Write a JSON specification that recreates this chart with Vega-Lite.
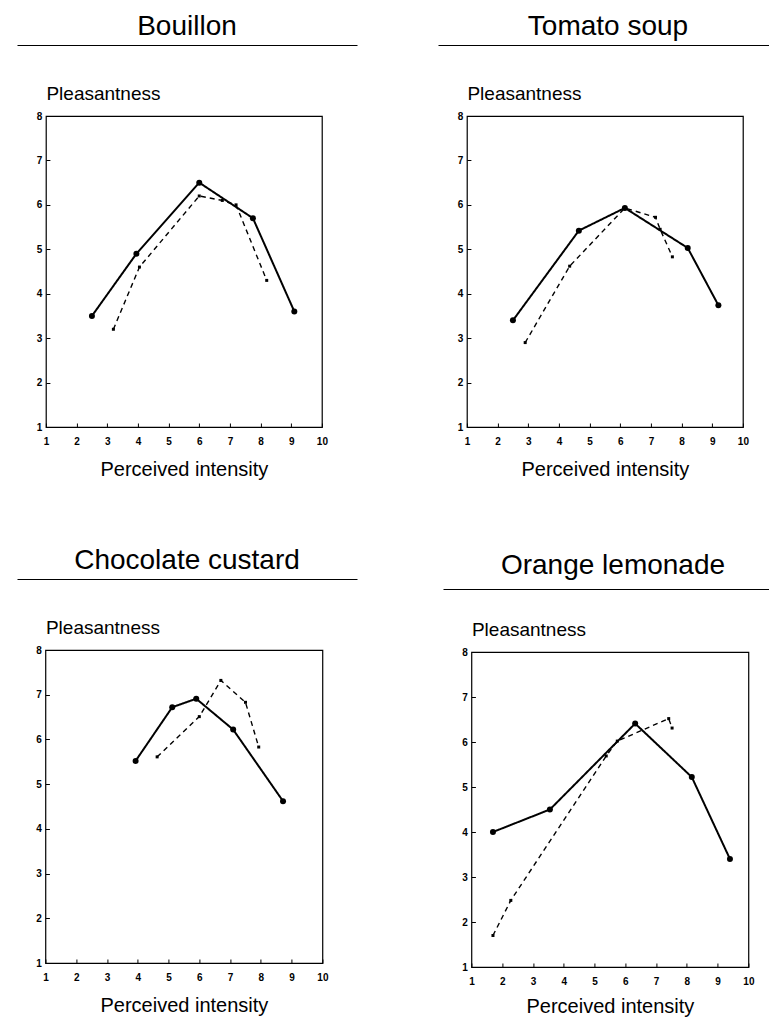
{
  "$schema": "https://vega.github.io/schema/vega-lite/v6.json",
  "background": "white",
  "padding": {"left": 17, "top": 8, "right": 0, "bottom": 0},
  "datasets": {
    "points": [
      {"food": "Bouillon", "series": "solid", "intensity": 2.5, "pleasantness": 3.5},
      {"food": "Bouillon", "series": "solid", "intensity": 3.95, "pleasantness": 4.9},
      {"food": "Bouillon", "series": "solid", "intensity": 6.0, "pleasantness": 6.5},
      {"food": "Bouillon", "series": "solid", "intensity": 7.75, "pleasantness": 5.7},
      {"food": "Bouillon", "series": "solid", "intensity": 9.1, "pleasantness": 3.6},
      {"food": "Bouillon", "series": "dashed", "intensity": 3.2, "pleasantness": 3.2},
      {"food": "Bouillon", "series": "dashed", "intensity": 4.05, "pleasantness": 4.6},
      {"food": "Bouillon", "series": "dashed", "intensity": 6.0, "pleasantness": 6.2},
      {"food": "Bouillon", "series": "dashed", "intensity": 6.75, "pleasantness": 6.1},
      {"food": "Bouillon", "series": "dashed", "intensity": 7.2, "pleasantness": 6.0},
      {"food": "Bouillon", "series": "dashed", "intensity": 8.2, "pleasantness": 4.3},
      {"food": "Tomato soup", "series": "solid", "intensity": 2.5, "pleasantness": 3.4},
      {"food": "Tomato soup", "series": "solid", "intensity": 4.65, "pleasantness": 5.42},
      {"food": "Tomato soup", "series": "solid", "intensity": 6.15, "pleasantness": 5.93},
      {"food": "Tomato soup", "series": "solid", "intensity": 8.2, "pleasantness": 5.03},
      {"food": "Tomato soup", "series": "solid", "intensity": 9.2, "pleasantness": 3.74},
      {"food": "Tomato soup", "series": "dashed", "intensity": 2.9, "pleasantness": 2.9},
      {"food": "Tomato soup", "series": "dashed", "intensity": 4.35, "pleasantness": 4.62},
      {"food": "Tomato soup", "series": "dashed", "intensity": 6.15, "pleasantness": 5.93},
      {"food": "Tomato soup", "series": "dashed", "intensity": 7.15, "pleasantness": 5.72},
      {"food": "Tomato soup", "series": "dashed", "intensity": 7.3, "pleasantness": 5.45},
      {"food": "Tomato soup", "series": "dashed", "intensity": 7.7, "pleasantness": 4.83},
      {"food": "Chocolate custard", "series": "solid", "intensity": 3.93, "pleasantness": 5.52},
      {"food": "Chocolate custard", "series": "solid", "intensity": 5.12, "pleasantness": 6.72},
      {"food": "Chocolate custard", "series": "solid", "intensity": 5.9, "pleasantness": 6.91},
      {"food": "Chocolate custard", "series": "solid", "intensity": 7.1, "pleasantness": 6.22},
      {"food": "Chocolate custard", "series": "solid", "intensity": 8.72, "pleasantness": 4.62},
      {"food": "Chocolate custard", "series": "dashed", "intensity": 4.63, "pleasantness": 5.61},
      {"food": "Chocolate custard", "series": "dashed", "intensity": 6.0, "pleasantness": 6.51},
      {"food": "Chocolate custard", "series": "dashed", "intensity": 6.7, "pleasantness": 7.32},
      {"food": "Chocolate custard", "series": "dashed", "intensity": 7.5, "pleasantness": 6.83},
      {"food": "Chocolate custard", "series": "dashed", "intensity": 7.93, "pleasantness": 5.83},
      {"food": "Orange lemonade", "series": "solid", "intensity": 1.7, "pleasantness": 4.0},
      {"food": "Orange lemonade", "series": "solid", "intensity": 3.55, "pleasantness": 4.5},
      {"food": "Orange lemonade", "series": "solid", "intensity": 6.32, "pleasantness": 6.41},
      {"food": "Orange lemonade", "series": "solid", "intensity": 8.16, "pleasantness": 5.22},
      {"food": "Orange lemonade", "series": "solid", "intensity": 9.4, "pleasantness": 3.4},
      {"food": "Orange lemonade", "series": "dashed", "intensity": 1.7, "pleasantness": 1.7},
      {"food": "Orange lemonade", "series": "dashed", "intensity": 2.28, "pleasantness": 2.48},
      {"food": "Orange lemonade", "series": "dashed", "intensity": 5.38, "pleasantness": 5.69},
      {"food": "Orange lemonade", "series": "dashed", "intensity": 5.74, "pleasantness": 6.02},
      {"food": "Orange lemonade", "series": "dashed", "intensity": 7.41, "pleasantness": 6.52},
      {"food": "Orange lemonade", "series": "dashed", "intensity": 7.52, "pleasantness": 6.31}
    ],
    "titles": [
      {"food": "Bouillon"},
      {"food": "Tomato soup"},
      {"food": "Chocolate custard"},
      {"food": "Orange lemonade"}
    ]
  },
  "vconcat": [
    {
      "hconcat": [
        {
          "vconcat": [
            {
              "width": 340, "height": 37,
              "data": {"name": "titles"},
              "transform": [{"filter": "datum.food === 'Bouillon'"}],
              "view": {"stroke": null},
              "mark": {"type": "text", "fontSize": 28, "color": "black"},
              "encoding": {
                "x": {"field": "food", "type": "nominal", "axis": {"title": null, "labels": false, "ticks": false, "domain": true, "domainColor": "black", "domainWidth": 1.2}},
                "text": {"field": "food"}
              }
            },
            {
              "width": 276, "height": 311,
              "data": {"name": "points"},
              "transform": [{"filter": "datum.food === 'Bouillon'"}],
              "encoding": {
                "x": {"field": "intensity", "type": "quantitative", "scale": {"domain": [1, 10], "nice": false, "zero": false}, "axis": {"title": "Perceived intensity", "values": [1, 2, 3, 4, 5, 6, 7, 8, 9, 10], "labelOverlap": false, "labelSeparation": 0, "labelBound": false, "labelFlush": false}},
                "y": {"field": "pleasantness", "type": "quantitative", "scale": {"domain": [1, 8], "nice": false, "zero": false}, "axis": {"title": "Pleasantness", "values": [1, 2, 3, 4, 5, 6, 7, 8], "labelOverlap": false, "labelFlush": false}}
              },
              "layer": [
                {
                  "mark": {"type": "line", "color": "black"},
                  "encoding": {
                    "strokeDash": {"field": "series", "type": "nominal", "scale": {"domain": ["solid", "dashed"], "range": [[1, 0], [5, 4]]}, "legend": null},
                    "strokeWidth": {"field": "series", "type": "nominal", "scale": {"domain": ["solid", "dashed"], "range": [2, 1.4]}, "legend": null}
                  }
                },
                {
                  "mark": {"type": "point", "filled": true, "color": "black", "opacity": 1},
                  "encoding": {
                    "shape": {"field": "series", "type": "nominal", "scale": {"domain": ["solid", "dashed"], "range": ["circle", "square"]}, "legend": null},
                    "size": {"field": "series", "type": "nominal", "scale": {"domain": ["solid", "dashed"], "range": [36, 9]}, "legend": null}
                  }
                }
              ]
            }
          ],
          "spacing": 38,
          "center": true
        },
        {
          "vconcat": [
            {
              "width": 340, "height": 37,
              "data": {"name": "titles"},
              "transform": [{"filter": "datum.food === 'Tomato soup'"}],
              "view": {"stroke": null},
              "mark": {"type": "text", "fontSize": 28, "color": "black"},
              "encoding": {
                "x": {"field": "food", "type": "nominal", "axis": {"title": null, "labels": false, "ticks": false, "domain": true, "domainColor": "black", "domainWidth": 1.2}},
                "text": {"field": "food"}
              }
            },
            {
              "width": 276, "height": 311,
              "data": {"name": "points"},
              "transform": [{"filter": "datum.food === 'Tomato soup'"}],
              "encoding": {
                "x": {"field": "intensity", "type": "quantitative", "scale": {"domain": [1, 10], "nice": false, "zero": false}, "axis": {"title": "Perceived intensity", "values": [1, 2, 3, 4, 5, 6, 7, 8, 9, 10], "labelOverlap": false, "labelSeparation": 0, "labelBound": false, "labelFlush": false}},
                "y": {"field": "pleasantness", "type": "quantitative", "scale": {"domain": [1, 8], "nice": false, "zero": false}, "axis": {"title": "Pleasantness", "values": [1, 2, 3, 4, 5, 6, 7, 8], "labelOverlap": false, "labelFlush": false}}
              },
              "layer": [
                {
                  "mark": {"type": "line", "color": "black"},
                  "encoding": {
                    "strokeDash": {"field": "series", "type": "nominal", "scale": {"domain": ["solid", "dashed"], "range": [[1, 0], [5, 4]]}, "legend": null},
                    "strokeWidth": {"field": "series", "type": "nominal", "scale": {"domain": ["solid", "dashed"], "range": [2, 1.4]}, "legend": null}
                  }
                },
                {
                  "mark": {"type": "point", "filled": true, "color": "black", "opacity": 1},
                  "encoding": {
                    "shape": {"field": "series", "type": "nominal", "scale": {"domain": ["solid", "dashed"], "range": ["circle", "square"]}, "legend": null},
                    "size": {"field": "series", "type": "nominal", "scale": {"domain": ["solid", "dashed"], "range": [36, 9]}, "legend": null}
                  }
                }
              ]
            }
          ],
          "spacing": 38,
          "center": true
        }
      ],
      "spacing": 81
    },
    {
      "hconcat": [
        {
          "vconcat": [
            {
              "width": 340, "height": 37,
              "data": {"name": "titles"},
              "transform": [{"filter": "datum.food === 'Chocolate custard'"}],
              "view": {"stroke": null},
              "mark": {"type": "text", "fontSize": 28, "color": "black"},
              "encoding": {
                "x": {"field": "food", "type": "nominal", "axis": {"title": null, "labels": false, "ticks": false, "domain": true, "domainColor": "black", "domainWidth": 1.2}},
                "text": {"field": "food"}
              }
            },
            {
              "width": 277, "height": 313,
              "data": {"name": "points"},
              "transform": [{"filter": "datum.food === 'Chocolate custard'"}],
              "encoding": {
                "x": {"field": "intensity", "type": "quantitative", "scale": {"domain": [1, 10], "nice": false, "zero": false}, "axis": {"title": "Perceived intensity", "values": [1, 2, 3, 4, 5, 6, 7, 8, 9, 10], "labelOverlap": false, "labelSeparation": 0, "labelBound": false, "labelFlush": false}},
                "y": {"field": "pleasantness", "type": "quantitative", "scale": {"domain": [1, 8], "nice": false, "zero": false}, "axis": {"title": "Pleasantness", "values": [1, 2, 3, 4, 5, 6, 7, 8], "labelOverlap": false, "labelFlush": false}}
              },
              "layer": [
                {
                  "mark": {"type": "line", "color": "black"},
                  "encoding": {
                    "strokeDash": {"field": "series", "type": "nominal", "scale": {"domain": ["solid", "dashed"], "range": [[1, 0], [5, 4]]}, "legend": null},
                    "strokeWidth": {"field": "series", "type": "nominal", "scale": {"domain": ["solid", "dashed"], "range": [2, 1.4]}, "legend": null}
                  }
                },
                {
                  "mark": {"type": "point", "filled": true, "color": "black", "opacity": 1},
                  "encoding": {
                    "shape": {"field": "series", "type": "nominal", "scale": {"domain": ["solid", "dashed"], "range": ["circle", "square"]}, "legend": null},
                    "size": {"field": "series", "type": "nominal", "scale": {"domain": ["solid", "dashed"], "range": [36, 9]}, "legend": null}
                  }
                }
              ]
            }
          ],
          "spacing": 38,
          "center": true
        },
        {
          "vconcat": [
            {
              "width": 340, "height": 47,
              "data": {"name": "titles"},
              "transform": [{"filter": "datum.food === 'Orange lemonade'"}],
              "view": {"stroke": null},
              "mark": {"type": "text", "fontSize": 28, "color": "black"},
              "encoding": {
                "x": {"field": "food", "type": "nominal", "axis": {"title": null, "labels": false, "ticks": false, "domain": true, "domainColor": "black", "domainWidth": 1.2}},
                "text": {"field": "food"}
              }
            },
            {
              "width": 277, "height": 315,
              "data": {"name": "points"},
              "transform": [{"filter": "datum.food === 'Orange lemonade'"}],
              "encoding": {
                "x": {"field": "intensity", "type": "quantitative", "scale": {"domain": [1, 10], "nice": false, "zero": false}, "axis": {"title": "Perceived intensity", "values": [1, 2, 3, 4, 5, 6, 7, 8, 9, 10], "labelOverlap": false, "labelSeparation": 0, "labelBound": false, "labelFlush": false, "titlePadding": 10}},
                "y": {"field": "pleasantness", "type": "quantitative", "scale": {"domain": [1, 8], "nice": false, "zero": false}, "axis": {"title": "Pleasantness", "values": [1, 2, 3, 4, 5, 6, 7, 8], "labelOverlap": false, "labelFlush": false}}
              },
              "layer": [
                {
                  "mark": {"type": "line", "color": "black"},
                  "encoding": {
                    "strokeDash": {"field": "series", "type": "nominal", "scale": {"domain": ["solid", "dashed"], "range": [[1, 0], [5, 4]]}, "legend": null},
                    "strokeWidth": {"field": "series", "type": "nominal", "scale": {"domain": ["solid", "dashed"], "range": [2, 1.4]}, "legend": null}
                  }
                },
                {
                  "mark": {"type": "point", "filled": true, "color": "black", "opacity": 1},
                  "encoding": {
                    "shape": {"field": "series", "type": "nominal", "scale": {"domain": ["solid", "dashed"], "range": ["circle", "square"]}, "legend": null},
                    "size": {"field": "series", "type": "nominal", "scale": {"domain": ["solid", "dashed"], "range": [36, 9]}, "legend": null}
                  }
                }
              ]
            }
          ],
          "spacing": 30,
          "center": true
        }
      ],
      "spacing": 86
    }
  ],
  "spacing": 62,
  "config": {
    "font": "Liberation Sans",
    "view": {"stroke": "black", "strokeWidth": 1.2},
    "axis": {
      "grid": false,
      "domain": false,
      "ticks": true,
      "tickSize": -4,
      "tickColor": "black",
      "tickWidth": 1,
      "labelFont": "Liberation Sans",
      "labelFontSize": 10,
      "labelFontWeight": "bold",
      "labelColor": "black",
      "labelFlush": false,
      "labelOverlap": false,
      "titleFont": "Liberation Sans",
      "titleColor": "black",
      "titleFontWeight": "normal"
    },
    "axisX": {"labelPadding": 13, "titleFontSize": 20, "titlePadding": 13},
    "axisY": {"labelPadding": 8, "titleFontSize": 19, "titleAngle": 0, "titleAlign": "left", "titleBaseline": "alphabetic", "titleX": 0, "titleY": -17}
  }
}
